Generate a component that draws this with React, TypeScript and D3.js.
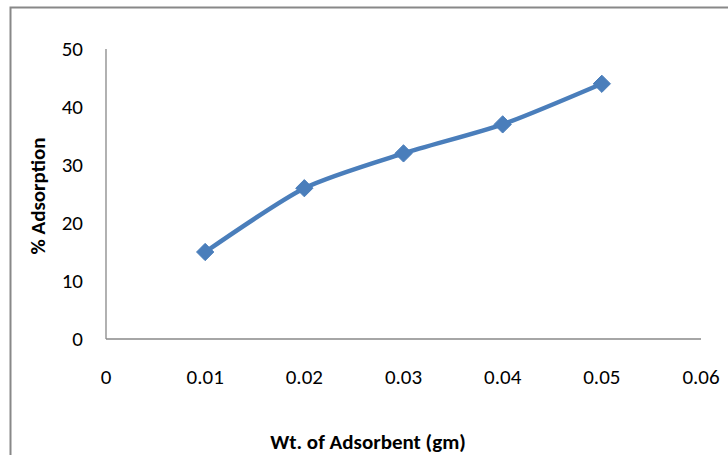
import React from "react";
import * as d3 from "d3";

const xValues = [0.01, 0.02, 0.03, 0.04, 0.05];
const yValues = [15, 26, 32, 37, 44];
const xTicks = [0, 0.01, 0.02, 0.03, 0.04, 0.05, 0.06];
const yTicks = [0, 10, 20, 30, 40, 50];

export default function App() {
  const W = 728, H = 455;
  const x = d3.scaleLinear().domain([0, 0.06]).range([106, 701]);
  const y = d3.scaleLinear().domain([0, 50]).range([339, 49]);
  const pts = xValues.map((v, i) => [x(v), y(yValues[i])] as [number, number]);
  const line = d3.line().curve(d3.curveCardinal.tension(0.3))(pts) || "";
  const font = "Carlito, Lato, 'Open Sans', 'Liberation Sans', sans-serif";
  const diamond = d3.symbol().type(d3.symbolDiamond2).size(190)() || "";
  return (
    <svg width={W} height={H} style={{ position: "absolute", left: 0, top: 0 }} fontFamily={font}>
      <rect x={0} y={0} width={W} height={H} fill="#fff" />
      <rect x={10.5} y={7.5} width={W + 20} height={H + 20} fill="none" stroke="#888" strokeWidth={2} />
      <line x1={106} x2={106} y1={49} y2={339} stroke="#888" strokeWidth={1.3} />
      <line x1={106} x2={701} y1={339} y2={339} stroke="#888" strokeWidth={1.3} />
      {yTicks.map((t) => (
        <text key={t} x={83} y={y(t)} dy="0.35em" textAnchor="end" fontSize={21} fill="#000">
          {t}
        </text>
      ))}
      {xTicks.map((t) => (
        <text key={t} x={x(t)} y={377} dy="0.35em" textAnchor="middle" fontSize={21} fill="#000">
          {d3.format("~g")(t)}
        </text>
      ))}
      <path d={line} fill="none" stroke="#4A7EBB" strokeWidth={4.5} strokeLinejoin="round" />
      {pts.map((p, i) => (
        <path key={i} d={diamond} transform={`translate(${p[0]},${p[1]})`} fill="#4A7EBB" stroke="#4A7EBB" strokeWidth={1} />
      ))}
      <text x={38} y={196} transform="rotate(-90,38,196)" textAnchor="middle" dy="0.35em" fontSize={21} fontWeight="bold" fill="#000">
        % Adsorption
      </text>
      <text x={368} y={442} textAnchor="middle" dy="0.35em" fontSize={21} fontWeight="bold" fill="#000">
        Wt. of Adsorbent (gm)
      </text>
    </svg>
  );
}
